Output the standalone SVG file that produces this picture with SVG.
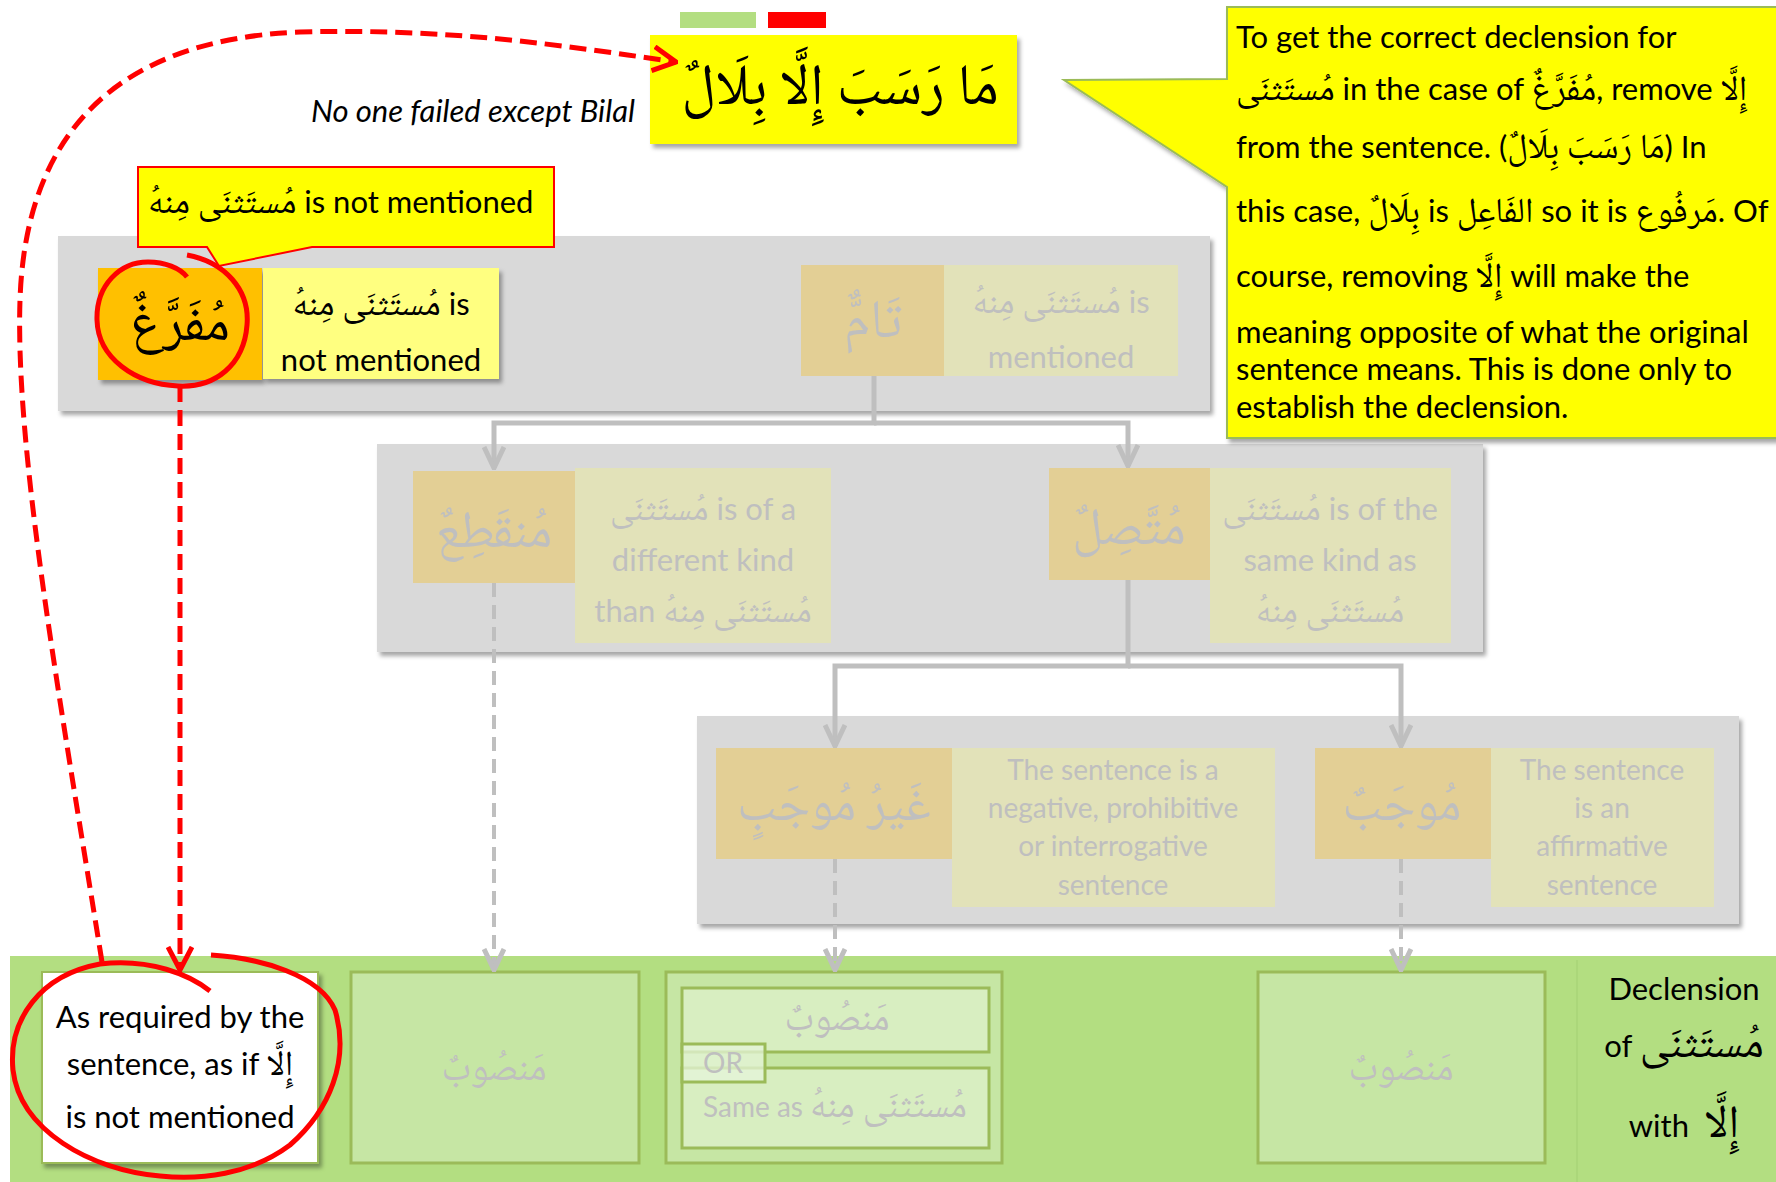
<svg xmlns="http://www.w3.org/2000/svg" width="1776" height="1182" viewBox="0 0 1776 1182">
<style>
.en{font-family:Lato,"Open Sans","Liberation Sans",sans-serif;font-size:31px;fill:#000}
.ar{font-family:"Noto Naskh Arabic","Noto Sans Arabic","DejaVu Sans",serif}
.ia{font-size:35px}
.fd{fill:#BFBFBF}
.mid{text-anchor:middle}
.gray{fill:#D9D9D9}
.fo{fill:#E3CF95}
.fy{fill:#E2E2B9}
.gbox{fill:#C6E6A4;stroke:#9BBB59;stroke-width:3}
.ibox{fill:#D8EEC1;stroke:#9BBB59;stroke-width:3}
.conn{fill:none;stroke:#BFBFBF;stroke-width:5}
.dconn{fill:none;stroke:#BFBFBF;stroke-width:4;stroke-dasharray:14 8}
.red{fill:none;stroke:#FF0000;stroke-width:5;stroke-linecap:butt}
.sm{font-size:28px}
</style>
<defs>
<filter id="sh" x="-5%" y="-5%" width="115%" height="125%">
<feDropShadow dx="3" dy="4" stdDeviation="2" flood-color="#000" flood-opacity="0.35"/>
</filter>
<marker id="ag" viewBox="0 0 24 24" refX="22" refY="12" markerWidth="24" markerHeight="24" markerUnits="userSpaceOnUse" orient="auto">
<path d="M1,2 L22,12 L1,22" fill="none" stroke="#BFBFBF" stroke-width="5"/>
</marker>
<marker id="ar" viewBox="0 0 26 28" refX="24" refY="14" markerWidth="26" markerHeight="28" markerUnits="userSpaceOnUse" orient="auto">
<path d="M1,2 L24,14 L1,26" fill="none" stroke="#FF0000" stroke-width="5"/>
</marker>
</defs>

<rect x="0" y="0" width="1776" height="1182" fill="#FFFFFF"/>

<!-- legend bars -->
<rect x="680" y="12" width="76" height="16" fill="#B3DE81"/>
<rect x="768" y="12" width="58" height="16" fill="#FF0000"/>

<!-- bottom band -->
<g id="band">
<rect x="10" y="956" width="1766" height="226" fill="#B3DE81"/>
<line x1="1577" y1="960" x2="1577" y2="1182" stroke="#A8D478" stroke-width="1.5"/>
</g>

<!-- gray container boxes -->
<g id="level1"><rect class="gray" x="58" y="236" width="1152" height="175" filter="url(#sh)"/></g>
<g id="level2"><rect class="gray" x="377" y="444" width="1106" height="208" filter="url(#sh)"/></g>
<g id="level3"><rect class="gray" x="697" y="716" width="1042" height="208" filter="url(#sh)"/></g>

<!-- top sentence -->
<g id="sentence">
<rect x="650" y="35" width="367" height="109" fill="#FFFF00" filter="url(#sh)"/>
<text class="ar mid" x="840" y="104" font-size="58">مَا رَسَبَ إِلَّا بِلَالٌ</text>
</g>
<text class="en" x="635" y="122" font-size="32" font-style="italic" text-anchor="end">No one failed except Bilal</text>

<!-- mufarragh -->
<g id="mufarragh">
<rect x="98" y="268" width="164" height="112" fill="#FFC000" filter="url(#sh)"/>
<text class="ar mid" x="180" y="340" font-size="54">مُفَرَّغٌ</text>
</g>
<g id="mufarragh-desc">
<rect x="263" y="268" width="236" height="111" fill="#FFFF80" filter="url(#sh)"/>
<text class="en mid" x="381" y="315"><tspan class="ar ia">مُستَثنَى مِنهُ</tspan> is</text>
<text class="en mid" x="381" y="371">not mentioned</text>
</g>

<!-- tamm -->
<g id="tamm">
<rect class="fo" x="801" y="265" width="143" height="111"/>
<text class="ar mid fd" x="873" y="337" font-size="54">تَامٌّ</text>
</g>
<g id="tamm-desc">
<rect class="fy" x="944" y="265" width="234" height="111"/>
<text class="en mid fd" x="1061" y="313"><tspan class="ar ia">مُستَثنَى مِنهُ</tspan> is</text>
<text class="en mid fd" x="1061" y="368">mentioned</text>
</g>

<!-- munqati -->
<g id="munqati">
<rect class="fo" x="413" y="471" width="162" height="112"/>
<text class="ar mid fd" x="494" y="547" font-size="52">مُنقَطِعٌ</text>
</g>
<g id="munqati-desc">
<rect class="fy" x="575" y="468" width="256" height="175"/>
<text class="en mid fd" x="703" y="520"><tspan class="ar ia">مُستَثنَى</tspan> is of a</text>
<text class="en mid fd" x="703" y="571">different kind</text>
<text class="en mid fd" x="703" y="622">than <tspan class="ar ia">مُستَثنَى مِنهُ</tspan></text>
</g>

<!-- muttasil -->
<g id="muttasil">
<rect class="fo" x="1049" y="468" width="161" height="112"/>
<text class="ar mid fd" x="1129" y="544" font-size="52">مُتَّصِلٌ</text>
</g>
<g id="muttasil-desc">
<rect class="fy" x="1210" y="468" width="241" height="175"/>
<text class="en mid fd" x="1330" y="520"><tspan class="ar ia">مُستَثنَى</tspan> is of the</text>
<text class="en mid fd" x="1330" y="571">same kind as</text>
<text class="ar ia mid fd" x="1330" y="622">مُستَثنَى مِنهُ</text>
</g>

<!-- ghayr mujab -->
<g id="ghayr-mujab">
<rect class="fo" x="716" y="748" width="236" height="111"/>
<text class="ar mid fd" x="834" y="820" font-size="50">غَيرُ مُوجَبٍ</text>
</g>
<g id="ghayr-mujab-desc">
<rect class="fy" x="952" y="748" width="323" height="159"/>
<text class="en mid fd sm" x="1113" y="780">The sentence is a</text>
<text class="en mid fd sm" x="1113" y="818">negative, prohibitive</text>
<text class="en mid fd sm" x="1113" y="856">or interrogative</text>
<text class="en mid fd sm" x="1113" y="895">sentence</text>
</g>

<!-- mujab -->
<g id="mujab">
<rect class="fo" x="1315" y="748" width="176" height="111"/>
<text class="ar mid fd" x="1402" y="820" font-size="50">مُوجَبٌ</text>
</g>
<g id="mujab-desc">
<rect class="fy" x="1491" y="748" width="223" height="159"/>
<text class="en mid fd sm" x="1602" y="780">The sentence</text>
<text class="en mid fd sm" x="1602" y="818">is an</text>
<text class="en mid fd sm" x="1602" y="856">affirmative</text>
<text class="en mid fd sm" x="1602" y="895">sentence</text>
</g>

<!-- results -->
<g id="result-mufarragh">
<rect x="42" y="972" width="276" height="191" fill="#FFFFFF" stroke="#9BBB59" stroke-width="2" filter="url(#sh)"/>
<text class="en mid" x="180" y="1028">As required by the</text>
<text class="en mid" x="180" y="1075">sentence, as if <tspan class="ar ia">إِلَّا</tspan></text>
<text class="en mid" x="180" y="1128">is not mentioned</text>
</g>
<g id="result-munqati">
<rect class="gbox" x="351" y="972" width="288" height="191"/>
<text class="ar mid fd" x="494" y="1080" font-size="38">مَنصُوبٌ</text>
</g>
<g id="result-ghayr-mujab">
<rect class="gbox" x="666" y="972" width="336" height="191"/>
<rect class="ibox" x="682" y="988" width="307" height="64"/>
<text class="ar mid fd" x="837" y="1030" font-size="38">مَنصُوبٌ</text>
<rect class="ibox" x="682" y="1068" width="307" height="80"/>
<rect x="682" y="1044" width="83" height="38" fill="#E6F4DA" fill-opacity="0.75" stroke="#9BBB59" stroke-width="3"/>
<text class="en fd sm" x="703" y="1073">OR</text>
<text class="en fd sm" x="703" y="1117">Same as <tspan class="ar" font-size="37">مُستَثنَى مِنهُ</tspan></text>
</g>
<g id="result-mujab">
<rect class="gbox" x="1258" y="972" width="287" height="191"/>
<text class="ar mid fd" x="1401" y="1080" font-size="38">مَنصُوبٌ</text>
</g>
<g id="declension-label">
<text class="en mid" x="1684" y="1000" font-size="36">Declension</text>
<text class="en mid" x="1684" y="1057" font-size="36">of <tspan class="ar" font-size="44">مُستَثنَى</tspan></text>
<text class="en mid" x="1684" y="1137" font-size="36">with&#8194;<tspan class="ar" font-size="46">إِلَّا</tspan></text>
</g>

<!-- callouts -->
<g id="callout-mufarragh">
<path d="M138,167 H554 V247 H312 L219,266 L207,247 H138 Z" fill="#FFFF00" stroke="#FF0000" stroke-width="2"/>
<text class="en" x="148" y="213"><tspan class="ar ia">مُستَثنَى مِنهُ</tspan> is not mentioned</text>
</g>
<g id="callout-explain">
<path d="M1064,80 L1227,79 V7 H1780 V438 H1227 V187 Z" fill="#FFFF00" stroke="#9BBB59" stroke-width="2" filter="url(#sh)"/>
<text class="en" x="1236" y="48">To get the correct declension for</text>
<text class="en" x="1236" y="100"><tspan class="ar ia">مُستَثنَى</tspan> in the case of <tspan class="ar ia">مُفَرَّغٌ</tspan>, remove <tspan class="ar ia">إِلَّا</tspan></text>
<text class="en" x="1236" y="158">from the sentence. (<tspan class="ar ia">مَا رَسَبَ بِلَالٌ</tspan>) In</text>
<text class="en" x="1236" y="222">this case, <tspan class="ar ia">بِلَالٌ</tspan> is <tspan class="ar ia">الفَاعِل</tspan> so it is <tspan class="ar ia">مَرفُوع</tspan>. Of</text>
<text class="en" x="1236" y="287">course, removing <tspan class="ar ia">إِلَّا</tspan> will make the</text>
<text class="en" x="1236" y="343">meaning opposite of what the original</text>
<text class="en" x="1236" y="380">sentence means. This is done only to</text>
<text class="en" x="1236" y="418">establish the declension.</text>
</g>

<!-- connectors -->
<g id="connectors">
<path class="conn" d="M874,376 V423 H494 V468" marker-end="url(#ag)"/>
<path class="conn" d="M874,423 H1128 V466" marker-end="url(#ag)"/>
<path class="conn" d="M1128,580 V666 H835 V746" marker-end="url(#ag)"/>
<path class="conn" d="M1128,666 H1401 V746" marker-end="url(#ag)"/>
<path class="dconn" d="M494,583 V970" marker-end="url(#ag)"/>
<path class="dconn" d="M835,859 V970" marker-end="url(#ag)"/>
<path class="dconn" d="M1401,859 V970" marker-end="url(#ag)"/>
<path class="red" d="M180,386 V970" stroke-dasharray="16 8" stroke-width="4" marker-end="url(#ar)"/>
<path class="red" d="M102,962 C60,700 15,450 20,300 C25,150 100,40 300,32 C450,28 560,45 676,62" stroke-dasharray="17 8" marker-end="url(#ar)"/>
</g>

<!-- hand-drawn circles -->
<g id="highlights">
<path class="red" d="M187,255 C225,262 250,290 247,325 C244,365 215,388 178,386 C135,384 98,358 97,320 C96,285 120,262 148,262 C165,262 180,268 187,277"/>
<path class="red" d="M211,955 C260,958 320,975 335,1010 C350,1060 330,1110 290,1145 C250,1175 200,1180 160,1176 C90,1170 20,1130 13,1070 C8,1020 40,975 100,964 C150,958 190,975 210,991"/>
</g>
</svg>
